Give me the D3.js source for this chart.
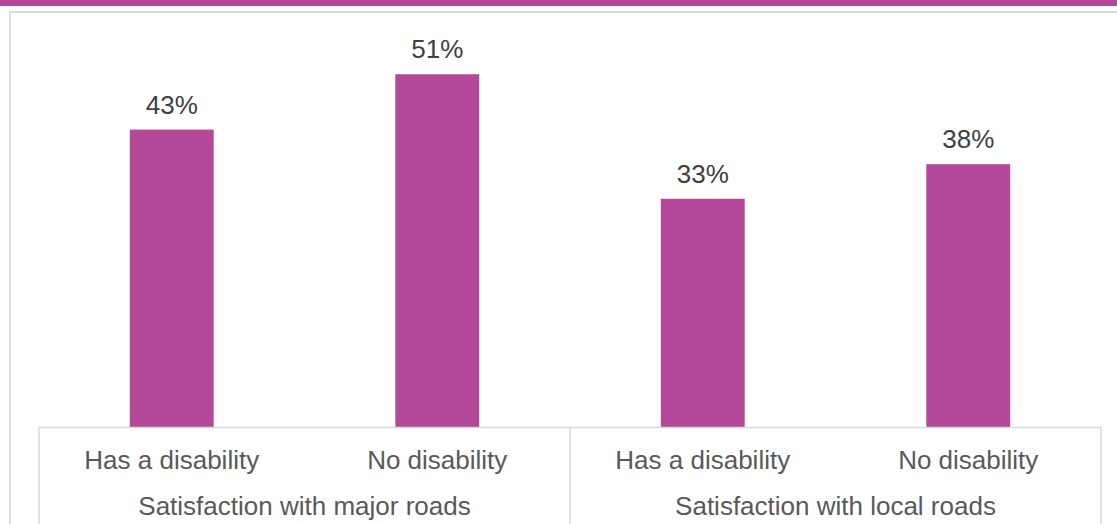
<!DOCTYPE html>
<html>
<head>
<meta charset="utf-8">
<script src="https://cdn.jsdelivr.net/npm/d3@7"></script>
<style>
  html, body { margin: 0; padding: 0; background: #fff; }
  svg { display: block; font-family: "Liberation Sans", Arial, sans-serif; }
</style>
</head>
<body>
<svg id="chart" width="1117" height="524"></svg>
<script>
// Survey results: share satisfied, by disability status
const groups = ["Satisfaction with major roads", "Satisfaction with local roads"];
const categories = ["Has a disability", "No disability", "Has a disability", "No disability"];
const values = [43, 51, 33, 38];

const W = 1117, H = 524;
const svg = d3.select("#chart");
const accent = "#b4499a";
const fontSize = 26;

// Header band and frame
svg.append("rect").attr("x", 0).attr("y", 0).attr("width", W).attr("height", 6).attr("fill", accent);
svg.append("path")
  .attr("d", `M10,${H} V12 H${W}`)
  .attr("fill", "none").attr("stroke", "#dcdcdc").attr("stroke-width", 2);

const plot = { left: 39, right: 1101, top: 12, bottom: 427 };

const ids = categories.map((c, i) => i);
const x = d3.scaleBand().domain(ids).range([plot.left, plot.right]).paddingInner(0.684).paddingOuter(0.342);
const y = d3.scaleLinear().domain([0, 60]).range([plot.bottom, plot.top]);

// Bars
svg.append("g").selectAll("rect").data(values).join("rect")
  .attr("x", (d, i) => x(i))
  .attr("y", d => y(d))
  .attr("width", x.bandwidth())
  .attr("height", d => y(0) - y(d))
  .attr("fill", accent);

// Value labels
svg.append("g").selectAll("text").data(values).join("text")
  .attr("x", (d, i) => x(i) + x.bandwidth() / 2)
  .attr("y", d => y(d) - 16)
  .attr("text-anchor", "middle")
  .attr("font-size", fontSize)
  .attr("fill", "#404040")
  .text(d => d + "%");

// Category axis box with group separators
const grid = "#d9d9d9";
const xg = d3.scaleBand().domain(groups.map((g, i) => i)).range([plot.left, plot.right]);
svg.append("line").attr("x1", plot.left).attr("x2", plot.right)
  .attr("y1", plot.bottom + 0.5).attr("y2", plot.bottom + 0.5)
  .attr("stroke", grid).attr("stroke-width", 1.5);
const edges = [plot.left].concat(groups.map((g, i) => xg(i) + xg.bandwidth()));
svg.append("g").selectAll("line").data(edges).join("line")
  .attr("x1", d => d).attr("x2", d => d)
  .attr("y1", plot.bottom).attr("y2", H)
  .attr("stroke", grid).attr("stroke-width", 1.5);

// Category labels
svg.append("g").selectAll("text").data(categories).join("text")
  .attr("x", (d, i) => x(i) + x.bandwidth() / 2)
  .attr("y", 469)
  .attr("text-anchor", "middle")
  .attr("font-size", fontSize)
  .attr("fill", "#595959")
  .text(d => d);

// Group labels
svg.append("g").selectAll("text").data(groups).join("text")
  .attr("x", (d, i) => xg(i) + xg.bandwidth() / 2)
  .attr("y", 515)
  .attr("text-anchor", "middle")
  .attr("font-size", fontSize)
  .attr("fill", "#595959")
  .text(d => d);
</script>
</body>
</html>
